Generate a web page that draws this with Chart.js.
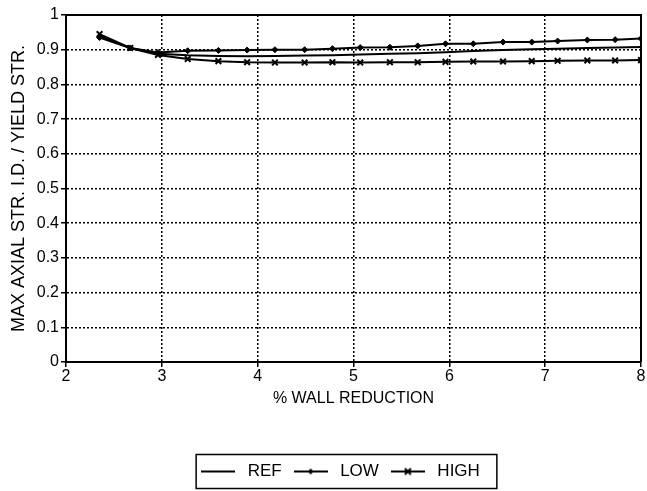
<!DOCTYPE html>
<html>
<head>
<meta charset="utf-8">
<script src="https://cdn.jsdelivr.net/npm/chart.js@4/dist/chart.umd.min.js"></script>
<style>
  html, body { margin: 0; padding: 0; background: #fff; }
  #wrap { position: relative; width: 647px; height: 491px; }
</style>
</head>
<body>
<div id="wrap"><canvas id="chart" width="647" height="491"></canvas></div>
<script>
// % wall reduction at each computed point
const wallReduction = [2.35, 2.67, 2.96, 3.27, 3.59, 3.89, 4.18, 4.49, 4.78, 5.07,
  5.38, 5.67, 5.96, 6.25, 6.56, 6.86, 7.13, 7.44, 7.73, 8.0];

const refValues = [0.940, 0.905, 0.888, 0.884, 0.882, 0.881, 0.882, 0.883, 0.884, 0.886,
  0.888, 0.890, 0.893, 0.896, 0.899, 0.901, 0.903, 0.905, 0.906, 0.908];
const lowValues = [0.935, 0.905, 0.892, 0.897, 0.898, 0.899, 0.900, 0.900, 0.903, 0.906,
  0.907, 0.911, 0.917, 0.917, 0.922, 0.922, 0.925, 0.928, 0.929, 0.932];
const highValues = [0.945, 0.905, 0.885, 0.873, 0.867, 0.864, 0.863, 0.863, 0.864, 0.863,
  0.864, 0.864, 0.865, 0.866, 0.866, 0.867, 0.868, 0.869, 0.869, 0.870];

const seriesNames = ["REF", "LOW", "HIGH"];
const xTicks = [2, 3, 4, 5, 6, 7, 8];
const yTicks = [0, 0.1, 0.2, 0.3, 0.4, 0.5, 0.6, 0.7, 0.8, 0.9, 1];

const FONT = "'Liberation Sans', Arial, sans-serif";
const INK = "#000";

function toPoints(values) {
  return values.map((y, i) => ({ x: wallReduction[i], y }));
}

// small line+marker sample used as the legend symbol
function legendSymbol(marker) {
  const c = document.createElement("canvas");
  c.width = 34;
  c.height = 12;
  const g = c.getContext("2d");
  g.strokeStyle = INK;
  g.fillStyle = INK;
  g.lineWidth = 2;
  g.beginPath();
  g.moveTo(0, 6);
  g.lineTo(34, 6);
  g.stroke();
  if (marker === "diamond") {
    g.beginPath();
    g.moveTo(17, 3);
    g.lineTo(20, 6);
    g.lineTo(17, 9);
    g.lineTo(14, 6);
    g.closePath();
    g.fill();
  } else if (marker === "cross") {
    g.beginPath();
    g.moveTo(14, 3);
    g.lineTo(20, 9);
    g.moveTo(20, 3);
    g.lineTo(14, 9);
    g.stroke();
  }
  return c;
}

const symbols = [legendSymbol("none"), legendSymbol("diamond"), legendSymbol("cross")];

// solid frame on top/right edges of the plot area
const framePlugin = {
  id: "frame",
  afterDatasetsDraw(chart) {
    const { ctx, chartArea: a } = chart;
    ctx.save();
    ctx.strokeStyle = INK;
    ctx.lineWidth = 2;
    ctx.beginPath();
    ctx.moveTo(a.left, a.top);
    ctx.lineTo(a.right, a.top);
    ctx.lineTo(a.right, a.bottom);
    ctx.stroke();
    ctx.restore();
  },
};

// boxed legend, sitting a little left of the plot centre like the original
const legendBoxPlugin = {
  id: "legendBox",
  afterLayout(chart) {
    if (!chart.legend) return;
    chart.legend.left -= 15;
    chart.legend.right -= 15;
  },
  afterDraw(chart) {
    const boxes = chart.legend && chart.legend.legendHitBoxes;
    if (!boxes || !boxes.length) return;
    const left = Math.min(...boxes.map((b) => b.left)) - 1;
    const right = Math.max(...boxes.map((b) => b.left + b.width)) + 17;
    const mid = boxes[0].top + boxes[0].height / 2;
    const { ctx } = chart;
    ctx.save();
    ctx.strokeStyle = INK;
    ctx.lineWidth = 1.5;
    ctx.strokeRect(left, mid - 17, right - left, 34);
    ctx.restore();
  },
};

const lineStyle = { borderColor: INK, backgroundColor: INK, borderWidth: 2, tension: 0, fill: false };

new Chart(document.getElementById("chart"), {
  type: "line",
  data: {
    datasets: [
      { ...lineStyle, label: seriesNames[0], data: toPoints(refValues), pointRadius: 0 },
      {
        ...lineStyle,
        label: seriesNames[1],
        data: toPoints(lowValues),
        pointStyle: "rectRot",
        pointRadius: 3,
        pointBorderWidth: 1,
      },
      {
        ...lineStyle,
        label: seriesNames[2],
        data: toPoints(highValues),
        pointStyle: "crossRot",
        pointRadius: 4,
        pointBorderWidth: 2,
      },
    ],
  },
  options: {
    responsive: false,
    animation: false,
    events: [],
    layout: { padding: { top: 15, right: 6, bottom: 1, left: 4 } },
    plugins: {
      tooltip: { enabled: false },
      legend: {
        position: "bottom",
        fullSize: false,
        labels: {
          color: INK,
          font: { family: FONT, size: 17 },
          usePointStyle: true,
          pointStyleWidth: 42,
          padding: 8,
          generateLabels: (chart) =>
            chart.data.datasets.map((ds, i) => ({
              text: ds.label,
              pointStyle: symbols[i],
              fillStyle: INK,
              strokeStyle: INK,
              lineWidth: 0,
              fontColor: INK,
              datasetIndex: i,
            })),
        },
      },
    },
    scales: {
      x: {
        type: "linear",
        min: 2,
        max: 8,
        afterBuildTicks: (scale) => {
          scale.ticks = xTicks.map((v) => ({ value: v }));
        },
        afterFit: (scale) => {
          scale.height = 93;
        },
        ticks: {
          color: INK,
          padding: 0,
          font: { family: FONT, size: 16 },
        },
        grid: { color: INK, lineWidth: 1.5, tickLength: 5, tickColor: INK, tickWidth: 1.5 },
        border: { color: INK, width: 2, dash: [2, 2] },
        title: {
          display: true,
          text: "% WALL REDUCTION",
          color: INK,
          font: { family: FONT, size: 16 },
          padding: { top: 2, bottom: 47 },
        },
      },
      y: {
        min: 0,
        max: 1,
        afterBuildTicks: (scale) => {
          scale.ticks = yTicks.map((v) => ({ value: v }));
        },
        afterFit: (scale) => {
          scale.width = 62;
        },
        ticks: {
          color: INK,
          padding: 2,
          font: { family: FONT, size: 16 },
          callback: (v) => String(v),
        },
        grid: { color: INK, lineWidth: 1.5, tickLength: 5, tickColor: INK, tickWidth: 1.5 },
        border: { color: INK, width: 2, dash: [2, 2] },
        title: {
          display: true,
          text: "MAX AXIAL STR. I.D. / YIELD STR.",
          color: INK,
          font: { family: FONT, size: 18 },
          padding: { top: 4, bottom: 4 },
        },
      },
    },
  },
  plugins: [framePlugin, legendBoxPlugin],
});
</script>
</body>
</html>
